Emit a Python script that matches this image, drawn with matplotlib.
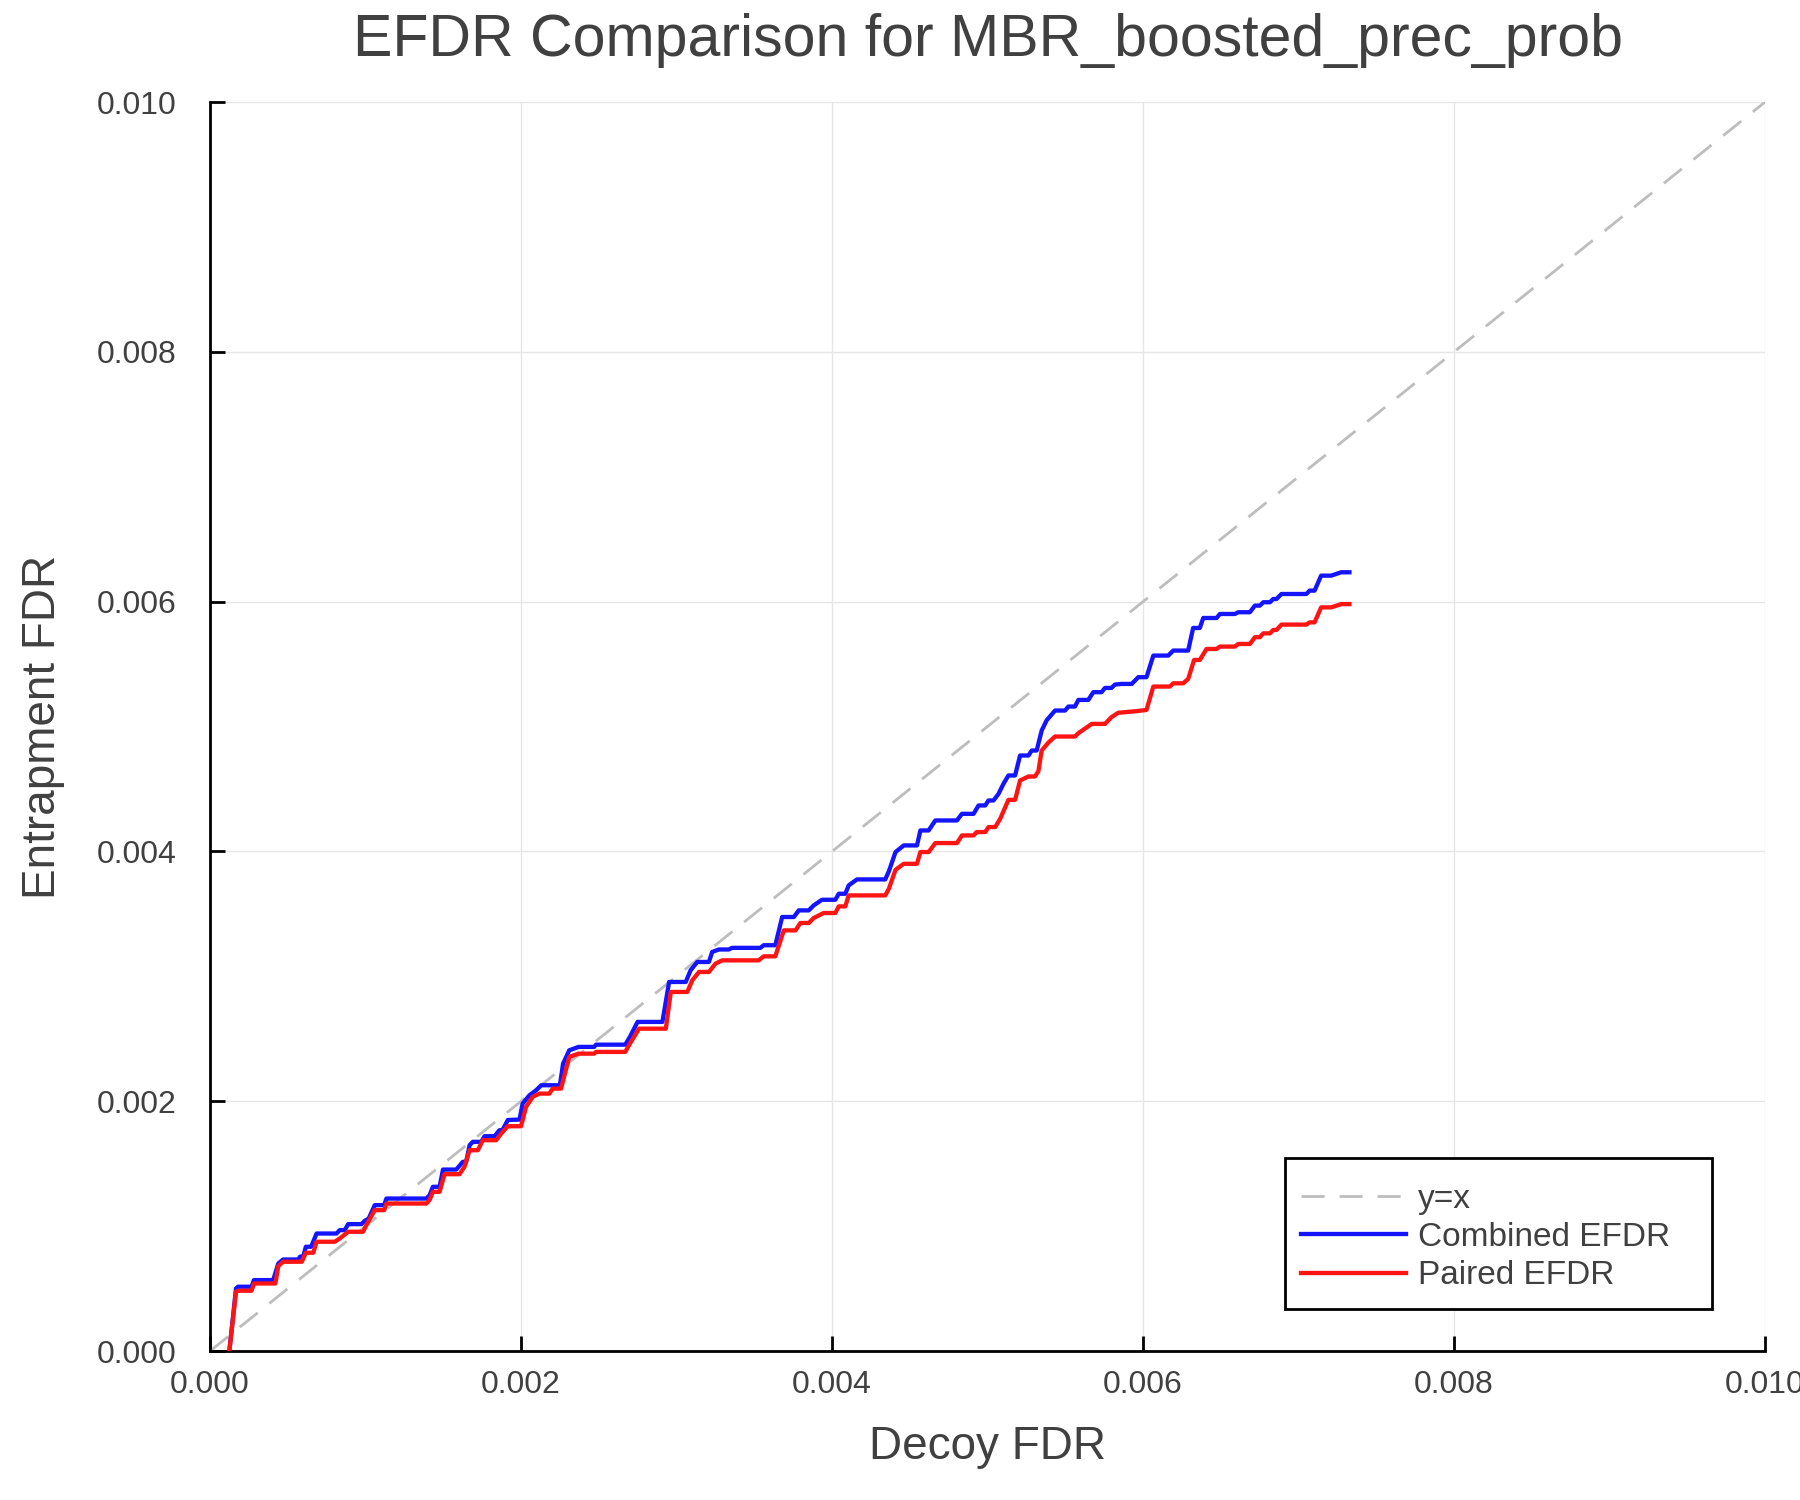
import matplotlib
matplotlib.use("Agg")
import matplotlib.pyplot as plt
from matplotlib.patches import Rectangle

plt.rcParams['font.family'] = ['Liberation Sans', 'DejaVu Sans']

# values (decoy FDR, entrapment FDR)
combined_x = [0.000124, 0.000167, 0.000180, 0.000267, 0.000282, 0.000406, 0.000439, 0.000470,
              0.000567, 0.000578, 0.000600, 0.000616, 0.000650, 0.000685, 0.000813, 0.000834,
              0.000866, 0.000888, 0.000973, 0.000995, 0.001020, 0.001059, 0.001120, 0.001134,
              0.001391, 0.001412, 0.001433, 0.001476, 0.001498, 0.001583, 0.001626, 0.001647,
              0.001669, 0.001690, 0.001744, 0.001765, 0.001830, 0.001861, 0.001880, 0.001915,
              0.001990, 0.002010, 0.002054, 0.002097, 0.002130, 0.002250, 0.002270, 0.002310,
              0.002370, 0.002470, 0.002482, 0.002670, 0.002700, 0.002749, 0.002909, 0.002952,
              0.003059, 0.003090, 0.003133, 0.003208, 0.003229, 0.003272, 0.003336, 0.003357,
              0.003539, 0.003560, 0.003635, 0.003679, 0.003754, 0.003786, 0.003850, 0.003882,
              0.003935, 0.004021, 0.004043, 0.004085, 0.004107, 0.004160, 0.004342, 0.004365,
              0.004408, 0.004461, 0.004546, 0.004568, 0.004621, 0.004664, 0.004803, 0.004835,
              0.004910, 0.004942, 0.004985, 0.005006, 0.005038, 0.005070, 0.005102, 0.005134,
              0.005177, 0.005209, 0.005263, 0.005284, 0.005316, 0.005348, 0.005380, 0.005434,
              0.005498, 0.005520, 0.005562, 0.005584, 0.005648, 0.005680, 0.005733, 0.005755,
              0.005797, 0.005819, 0.005860, 0.005927, 0.005969, 0.006022, 0.006066, 0.006162,
              0.006194, 0.006290, 0.006322, 0.006365, 0.006387, 0.006473, 0.006494, 0.006590,
              0.006612, 0.006687, 0.006719, 0.006751, 0.006773, 0.006816, 0.006837, 0.006858,
              0.006890, 0.007050, 0.007071, 0.007103, 0.007145, 0.007210, 0.007274, 0.007327]
combined_y = [0.000000, 0.000501, 0.000515, 0.000515, 0.000568, 0.000568, 0.000701, 0.000733,
              0.000733, 0.000755, 0.000760, 0.000835, 0.000835, 0.000941, 0.000941, 0.000968,
              0.000968, 0.001016, 0.001016, 0.001043, 0.001060, 0.001168, 0.001168, 0.001221,
              0.001221, 0.001248, 0.001315, 0.001315, 0.001453, 0.001453, 0.001515, 0.001515,
              0.001648, 0.001675, 0.001675, 0.001720, 0.001720, 0.001768, 0.001768, 0.001850,
              0.001853, 0.001981, 0.002048, 0.002088, 0.002128, 0.002128, 0.002300, 0.002408,
              0.002435, 0.002435, 0.002453, 0.002453, 0.002515, 0.002635, 0.002635, 0.002955,
              0.002955, 0.003048, 0.003115, 0.003115, 0.003195, 0.003215, 0.003215, 0.003228,
              0.003228, 0.003249, 0.003249, 0.003475, 0.003475, 0.003528, 0.003528, 0.003568,
              0.003613, 0.003613, 0.003661, 0.003661, 0.003728, 0.003776, 0.003776, 0.003840,
              0.003995, 0.004048, 0.004048, 0.004168, 0.004168, 0.004248, 0.004248, 0.004301,
              0.004301, 0.004368, 0.004368, 0.004408, 0.004408, 0.004460, 0.004541, 0.004608,
              0.004608, 0.004768, 0.004768, 0.004808, 0.004808, 0.004968, 0.005050, 0.005128,
              0.005128, 0.005160, 0.005160, 0.005213, 0.005213, 0.005275, 0.005275, 0.005309,
              0.005309, 0.005336, 0.005341, 0.005341, 0.005395, 0.005395, 0.005568, 0.005568,
              0.005608, 0.005608, 0.005789, 0.005789, 0.005869, 0.005869, 0.005901, 0.005901,
              0.005915, 0.005915, 0.005968, 0.005968, 0.005995, 0.005995, 0.006021, 0.006021,
              0.006061, 0.006061, 0.006088, 0.006088, 0.006208, 0.006208, 0.006235, 0.006235]

paired_x = [0.000124, 0.000167, 0.000180, 0.000267, 0.000282, 0.000420, 0.000439, 0.000470,
            0.000590, 0.000616, 0.000664, 0.000685, 0.000802, 0.000834, 0.000888, 0.000984,
            0.001005, 0.001059, 0.001120, 0.001134, 0.001391, 0.001412, 0.001433, 0.001476,
            0.001508, 0.001604, 0.001636, 0.001669, 0.001722, 0.001754, 0.001840, 0.001872,
            0.001915, 0.002000, 0.002032, 0.002075, 0.002118, 0.002182, 0.002203, 0.002257,
            0.002310, 0.002370, 0.002470, 0.002482, 0.002670, 0.002700, 0.002759, 0.002931,
            0.002963, 0.003069, 0.003101, 0.003144, 0.003208, 0.003250, 0.003293, 0.003528,
            0.003560, 0.003635, 0.003690, 0.003765, 0.003796, 0.003850, 0.003882, 0.003946,
            0.004021, 0.004043, 0.004085, 0.004107, 0.004342, 0.004365, 0.004408, 0.004461,
            0.004546, 0.004568, 0.004621, 0.004664, 0.004803, 0.004835, 0.004910, 0.004930,
            0.004985, 0.005006, 0.005049, 0.005081, 0.005134, 0.005177, 0.005209, 0.005263,
            0.005305, 0.005327, 0.005348, 0.005390, 0.005434, 0.005562, 0.005584, 0.005670,
            0.005755, 0.005797, 0.005840, 0.005958, 0.006022, 0.006066, 0.006172, 0.006194,
            0.006258, 0.006290, 0.006328, 0.006365, 0.006408, 0.006473, 0.006494, 0.006590,
            0.006612, 0.006687, 0.006719, 0.006751, 0.006773, 0.006816, 0.006837, 0.006858,
            0.006890, 0.007050, 0.007071, 0.007103, 0.007145, 0.007210, 0.007274, 0.007327]
paired_y = [0.000000, 0.000475, 0.000483, 0.000483, 0.000541, 0.000541, 0.000680, 0.000715,
            0.000715, 0.000787, 0.000787, 0.000875, 0.000875, 0.000901, 0.000955, 0.000955,
            0.001008, 0.001128, 0.001128, 0.001181, 0.001181, 0.001210, 0.001275, 0.001275,
            0.001416, 0.001416, 0.001475, 0.001608, 0.001608, 0.001688, 0.001688, 0.001741,
            0.001800, 0.001800, 0.001955, 0.002035, 0.002061, 0.002061, 0.002101, 0.002101,
            0.002355, 0.002381, 0.002381, 0.002395, 0.002395, 0.002461, 0.002581, 0.002581,
            0.002875, 0.002875, 0.002968, 0.003035, 0.003035, 0.003101, 0.003128, 0.003128,
            0.003160, 0.003160, 0.003368, 0.003368, 0.003427, 0.003427, 0.003467, 0.003507,
            0.003507, 0.003560, 0.003560, 0.003648, 0.003648, 0.003700, 0.003853, 0.003901,
            0.003901, 0.003995, 0.003995, 0.004067, 0.004067, 0.004128, 0.004128, 0.004155,
            0.004155, 0.004195, 0.004195, 0.004261, 0.004413, 0.004413, 0.004568, 0.004600,
            0.004600, 0.004643, 0.004808, 0.004870, 0.004920, 0.004920, 0.004947, 0.005021,
            0.005021, 0.005075, 0.005110, 0.005123, 0.005133, 0.005320, 0.005320, 0.005346,
            0.005346, 0.005381, 0.005533, 0.005533, 0.005621, 0.005621, 0.005640, 0.005640,
            0.005661, 0.005661, 0.005715, 0.005715, 0.005746, 0.005746, 0.005773, 0.005773,
            0.005816, 0.005816, 0.005834, 0.005834, 0.005954, 0.005954, 0.005980, 0.005980]

ticks = [0.000, 0.002, 0.004, 0.006, 0.008, 0.010]
tick_labels = ['0.000', '0.002', '0.004', '0.006', '0.008', '0.010']
diag = [0.0, 0.01]

text_color = '#404040'

fig = plt.figure(figsize=(18, 15), dpi=100, facecolor='white')
ax = fig.add_axes([0.1167, 0.0993, 0.8639, 0.8327])

# reference line
ax.plot(diag, diag, color='#bdbdbd', lw=2.0, dashes=(8.3, 5.4), label='y=x', zorder=2)
ax.plot(combined_x, combined_y, color='#1414ff', lw=3.1, label='Combined EFDR', zorder=3)
ax.plot(paired_x, paired_y, color='#ff1414', lw=3.1, label='Paired EFDR', zorder=3)

ax.set_xlim(0, 0.01)
ax.set_ylim(0, 0.01)
ax.set_xticks(ticks)
ax.set_yticks(ticks)
ax.set_xticklabels(tick_labels)
ax.set_yticklabels(tick_labels)

ax.grid(True, color='#e6e6e6', lw=1.0, zorder=0)
ax.set_axisbelow(True)
for side in ['top', 'right']:
    ax.spines[side].set_visible(False)
for side in ['left', 'bottom']:
    ax.spines[side].set_linewidth(2.0)
    ax.spines[side].set_color('black')

ax.tick_params(axis='both', direction='in', length=11, width=2.0, colors='black',
               labelcolor=text_color, labelsize=23)
ax.tick_params(axis='x', pad=14)
ax.tick_params(axis='y', pad=24)

ax.set_title('EFDR Comparison for MBR_boosted_prec_prob', fontsize=42.5,
             color=text_color, pad=33)
ax.set_xlabel('Decoy FDR', fontsize=33, color=text_color, labelpad=18)
ax.set_ylabel('Entrapment FDR', fontsize=33, color=text_color, labelpad=23)

# legend frame drawn separately (GR style: wider right margin)
ax.add_patch(Rectangle((0.6913, 0.034), 0.2747, 0.1204, transform=ax.transAxes,
                       facecolor='white', edgecolor='black', lw=2.0, zorder=4))
leg = ax.legend(loc='upper left', bbox_to_anchor=(0.7016, 0.134), fontsize=24,
                frameon=False, handlelength=3.15, handletextpad=0.35,
                labelspacing=0.22, borderpad=0.0, borderaxespad=0.0)
leg.set_zorder(5)
for t in leg.get_texts():
    t.set_color(text_color)

fig.savefig('out.png', dpi=100, facecolor='white')
